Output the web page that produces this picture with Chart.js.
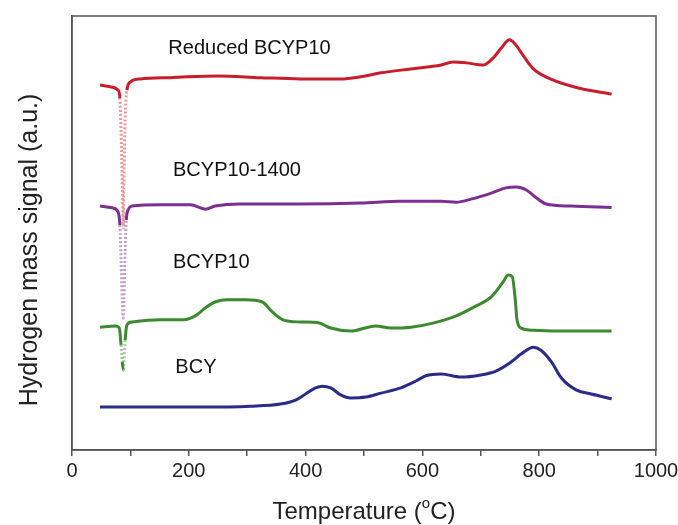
<!DOCTYPE html>
<html>
<head>
<meta charset="utf-8">
<script src="https://cdn.jsdelivr.net/npm/chart.js@4/dist/chart.umd.min.js"></script>
<style>
  html, body { margin: 0; padding: 0; background: #fff; }
  #wrap { width: 678px; height: 525px; }
</style>
</head>
<body>
<div id="wrap"><canvas id="tpr"></canvas></div>
<script>
// H2 signal vs temperature, curves offset vertically (a.u.)
var reducedT = [48, 69, 79, 82, 84, 86, 88, 89, 91, 94, 100, 117, 168, 249, 323, 391, 460, 494, 529, 580, 632, 652, 675, 704, 721, 735, 749, 759, 773, 790, 819, 867, 924];
var reducedH = [84.1, 83.6, 82.9, 81.1, 73.7, 62.2, 51.2, 62.2, 76.0, 82.9, 84.8, 85.5, 85.8, 86.2, 85.8, 85.5, 85.5, 86.0, 86.9, 87.8, 88.7, 89.4, 89.2, 88.7, 90.3, 92.6, 94.5, 93.5, 90.8, 87.8, 85.5, 83.4, 82.0];

var p1400T = [48, 69, 79, 82, 84, 86, 88, 89, 91, 93, 96, 103, 151, 203, 228, 245, 288, 391, 494, 563, 632, 658, 683, 718, 743, 761, 778, 795, 812, 855, 924];
var p1400H = [56.2, 55.8, 54.8, 51.8, 43.8, 34.6, 30.4, 34.6, 46.1, 53.0, 55.3, 56.2, 56.5, 56.5, 55.5, 56.2, 56.7, 56.7, 56.9, 57.3, 57.3, 57.1, 57.8, 59.2, 60.4, 60.6, 59.9, 58.1, 56.7, 56.2, 55.9];

var bcyp10T = [48, 74, 81, 84, 86, 88, 89, 91, 94, 103, 151, 191, 211, 228, 245, 266, 297, 326, 343, 361, 391, 422, 443, 477, 520, 546, 580, 620, 658, 692, 718, 738, 747, 754, 759, 762, 769, 791, 855, 924];
var bcyp10H = [28.3, 28.6, 28.1, 24.2, 20.3, 18.4, 20.7, 25.3, 28.8, 29.5, 30.0, 30.0, 30.9, 32.7, 34.1, 34.6, 34.6, 34.1, 31.8, 30.0, 29.5, 29.3, 28.1, 27.4, 28.6, 28.1, 28.3, 29.3, 30.9, 33.2, 35.3, 38.7, 40.3, 39.9, 34.6, 30.0, 28.1, 27.6, 27.4, 27.4];

var bcyT = [48, 134, 220, 306, 357, 383, 400, 417, 429, 443, 460, 477, 503, 529, 563, 589, 606, 632, 666, 700, 726, 752, 769, 790, 803, 821, 838, 864, 889, 924];
var bcyH = [9.9, 9.9, 9.9, 10.1, 10.6, 11.5, 12.9, 14.3, 14.7, 14.3, 12.7, 12.0, 12.2, 13.1, 14.3, 15.9, 17.1, 17.5, 16.8, 17.3, 18.2, 20.3, 22.1, 23.7, 23.0, 20.3, 16.6, 13.8, 12.9, 11.8];

var sampleNames = ['Reduced BCYP10', 'BCYP10-1400', 'BCYP10', 'BCY'];
var sampleColors = ['#c81e2b', '#7b2f8f', '#3b8a2f', '#2b2c88'];
// where each name is written, in data units
var nameT = [165, 173, 173, 177];
var nameH = [92.6, 64.5, 43.1, 18.9];

var xTicks = [0, 200, 400, 600, 800, 1000];

var FONT = '"Liberation Sans", Arial, sans-serif';

function pts(t, h) {
  return t.map(function(v, i) { return { x: v, y: h[i] }; });
}

function fade(hex) {
  var n = parseInt(hex.slice(1), 16);
  return 'rgba(' + (n >> 16) + ',' + ((n >> 8) & 255) + ',' + (n & 255) + ',0.45)';
}

// near-vertical pieces (the sharp dips) are drawn thin and dotted
function steep(ctx) {
  var dx = Math.abs(ctx.p1.x - ctx.p0.x), dy = Math.abs(ctx.p1.y - ctx.p0.y);
  return dy > 8 && dy > 13 * dx;
}

function makeSet(i, t, h) {
  var c = sampleColors[i];
  return {
    label: sampleNames[i],
    data: pts(t, h),
    borderColor: c,
    borderWidth: 3,
    pointRadius: 0,
    cubicInterpolationMode: 'monotone',
    segment: {
      borderColor: function(ctx) { return steep(ctx) ? fade(c) : c; },
      borderDash: function(ctx) { return steep(ctx) ? [2, 2] : []; }
    }
  };
}

var frame = {
  id: 'frame',
  afterDraw: function(chart) {
    var g = chart.ctx, a = chart.chartArea;
    var xs = chart.scales.x, ys = chart.scales.y;
    g.save();
    g.strokeStyle = '#555';
    g.lineWidth = 1.5;
    g.strokeRect(a.left, a.top, a.right - a.left, a.bottom - a.top);

    // sample names
    g.fillStyle = '#111';
    g.font = '20px ' + FONT;
    g.textBaseline = 'middle';
    g.textAlign = 'left';
    for (var i = 0; i < sampleNames.length; i++) {
      g.fillText(sampleNames[i], xs.getPixelForValue(nameT[i]), ys.getPixelForValue(nameH[i]));
    }

    // x title with superscript degree
    g.fillStyle = '#222';
    var big = '24px ' + FONT, small = '15px ' + FONT;
    var p1 = 'Temperature (', p3 = 'C)';
    g.font = big;
    var w1 = g.measureText(p1).width, w3 = g.measureText(p3).width;
    g.font = small;
    var w2 = g.measureText('o').width;
    var cx = (a.left + a.right) / 2, ty = 512;
    var x0 = cx - (w1 + w2 + w3) / 2;
    g.font = big;
    g.fillText(p1, x0, ty);
    g.font = small;
    g.fillText('o', x0 + w1, ty - 8);
    g.font = big;
    g.fillText(p3, x0 + w1 + w2, ty);

    // y title
    g.translate(30, 250);
    g.rotate(-Math.PI / 2);
    g.textAlign = 'center';
    g.font = '25px ' + FONT;
    g.fillText('Hydrogen mass signal (a.u.)', 0, 0);
    g.restore();
  }
};

new Chart(document.getElementById('tpr'), {
  type: 'line',
  data: {
    datasets: [
      makeSet(0, reducedT, reducedH),
      makeSet(1, p1400T, p1400H),
      makeSet(2, bcyp10T, bcyp10H),
      makeSet(3, bcyT, bcyH)
    ]
  },
  options: {
    responsive: true,
    maintainAspectRatio: false,
    animation: false,
    layout: { padding: { top: 16, right: 22, left: 0, bottom: 0 } },
    plugins: { legend: { display: false }, tooltip: { enabled: false } },
    scales: {
      x: {
        type: 'linear',
        min: 0,
        max: 1000,
        afterFit: function(s) {
          s.height = 75;
          // let the 1000 label hang past the frame
          s.paddingRight = 0;
          s.paddingLeft = 0;
        },
        afterBuildTicks: function(s) {
          s.ticks = [];
          for (var v = 0; v <= 1000; v += 100) s.ticks.push({ value: v });
        },
        ticks: {
          autoSkip: false,
          maxRotation: 0,
          padding: 3,
          color: '#222',
          font: { family: FONT, size: 20 },
          callback: function(v) { return xTicks.indexOf(v) >= 0 ? String(v) : ''; }
        },
        grid: { drawOnChartArea: false, drawTicks: true, tickLength: 6, color: '#555', lineWidth: 1.5 },
        border: { color: '#555', width: 1.5 }
      },
      y: {
        type: 'linear',
        min: 0,
        max: 100,
        afterFit: function(s) { s.width = 72; },
        ticks: { display: false },
        grid: { display: false },
        border: { color: '#555', width: 1.5 }
      }
    }
  },
  plugins: [frame]
});
</script>
</body>
</html>
